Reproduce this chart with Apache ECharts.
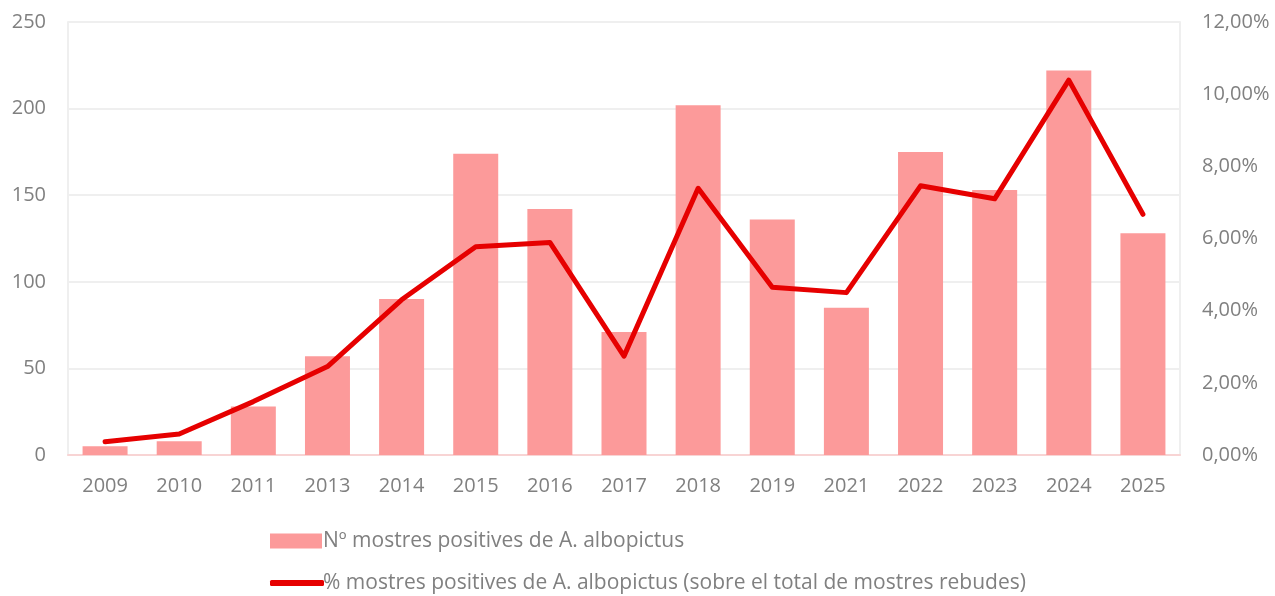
<!DOCTYPE html>
<html><head><meta charset="utf-8">
<script src="https://cdn.jsdelivr.net/npm/echarts@6/dist/echarts.min.js"></script>
<style>html,body{margin:0;padding:0;background:#fff}#c{width:1275px;height:596px}</style>
</head><body><div id="c"></div>
<script>
const years = ['2009','2010','2011','2013','2014','2015','2016','2017','2018','2019','2021','2022','2023','2024','2025'];
const positives = [5, 8, 28, 57, 90, 174, 142, 71, 202, 136, 85, 175, 153, 222, 128];
const percentPositives = [0.37, 0.58, 1.48, 2.45, 4.30, 5.77, 5.89, 2.74, 7.39, 4.65, 4.50, 7.46, 7.10, 10.39, 6.67];
const barName = 'Nº mostres positives de A. albopictus';
const lineName = '% mostres positives de A. albopictus (sobre el total de mostres rebudes)';

const FONT = 'Open Sans';
const chart = echarts.init(document.getElementById('c'));
chart.setOption({
  animation: false,
  textStyle: { fontFamily: FONT },
  grid: { left: 68, right: 95, top: 22, bottom: 141, containLabel: false },
  legend: [
    { orient: 'vertical', left: 265, top: 524, itemWidth: 52, itemHeight: 15, itemGap: 8,
      data: [{ name: barName, icon: 'rect' }],
      textStyle: { fontSize: 21, lineHeight: 24, color: '#808080', fontFamily: FONT, padding: [0,0,0,-4] } },
    { orient: 'vertical', left: 265, top: 566, itemWidth: 54, itemHeight: 6, itemGap: 8,
      data: [{ name: lineName, icon: 'roundRect', itemStyle: { color: '#E60000' } }],
      textStyle: { fontSize: 21, lineHeight: 24, color: '#808080', fontFamily: FONT, padding: [0,0,0,-6] } }
  ],
  xAxis: {
    type: 'category', data: years,
    axisLine: { lineStyle: { color: '#F8D4D4', width: 2 } },
    axisTick: { show: false },
    axisLabel: { color: '#808080', fontSize: 20, margin: 21, fontFamily: FONT }
  },
  yAxis: [
    { type: 'value', min: 0, max: 250, interval: 50,
      axisLine: { show: true, lineStyle: { color: '#EFEFEF', width: 2 } },
      axisTick: { show: false },
      splitLine: { lineStyle: { color: '#EFEFEF', width: 2 } },
      axisLabel: { color: '#808080', fontSize: 20, margin: 22, fontFamily: FONT } },
    { type: 'value', min: 0, max: 12, interval: 2, position: 'right',
      axisLine: { show: true, lineStyle: { color: '#EFEFEF', width: 2 } },
      axisTick: { show: false },
      splitLine: { show: false },
      axisLabel: { color: '#808080', fontSize: 20, margin: 22, fontFamily: FONT,
        formatter: v => v.toFixed(2).replace('.', ',') + '%' } }
  ],
  series: [
    { name: barName, type: 'bar', data: positives, barWidth: 45, yAxisIndex: 0,
      itemStyle: { color: '#FC9A9A' } },
    { name: lineName, type: 'line', data: percentPositives, yAxisIndex: 1,
      symbol: 'none', lineStyle: { color: '#E60000', width: 5, cap: 'round', join: 'round' },
      itemStyle: { color: '#E60000' } }
  ]
});
</script></body></html>
